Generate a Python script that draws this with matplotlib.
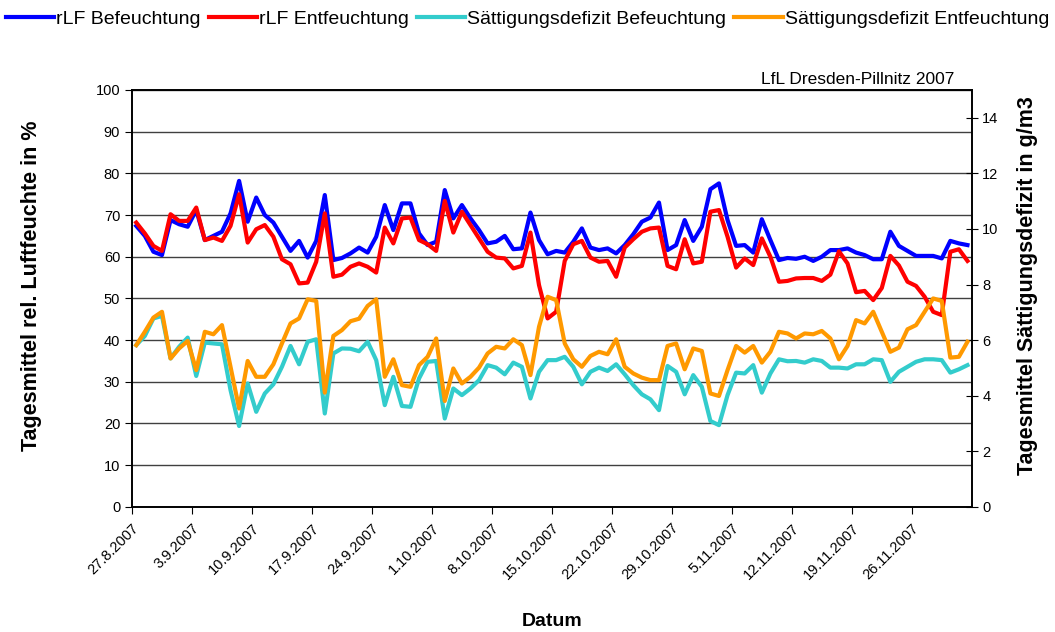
import datetime as dt
import matplotlib
matplotlib.use("Agg")
import matplotlib.pyplot as plt

plt.rcParams['font.family'] = ['Liberation Sans', 'DejaVu Sans']

# daily values, 27.8.2007 - 2.12.2007
start = dt.datetime(2007, 8, 27)

# rel. Luftfeuchte in %
rlf_bef = [67.4, 65.0, 61.2, 60.4, 68.8, 67.8, 67.2, 71.2, 64.0, 65.0,
           66.0, 70.4, 78.2, 68.4, 74.2, 70.0, 68.2, 64.8, 61.4, 63.8,
           59.8, 63.8, 74.8, 59.2, 59.7, 60.8, 62.2, 61.0, 64.8, 72.4,
           66.4, 72.8, 72.8, 65.6, 62.8, 63.6, 76.0, 69.2, 72.4, 69.2,
           66.4, 63.2, 63.6, 65.0, 61.8, 62.0, 70.6, 64.0, 60.6, 61.4,
           61.0, 63.6, 66.8, 62.2, 61.6, 62.0, 60.8, 62.8, 65.4, 68.4,
           69.4, 73.0, 61.6, 62.8, 68.8, 63.8, 67.2, 76.2, 77.6, 68.8,
           62.6, 62.8, 61.0, 69.0, 64.0, 59.2, 59.7, 59.5, 60.0, 59.0,
           60.0, 61.6, 61.6, 62.0, 61.0, 60.4, 59.4, 59.4, 66.0, 62.6,
           61.4, 60.2, 60.2, 60.2, 59.6, 63.8, 63.2, 62.8]
rlf_ent = [68.2, 65.6, 62.6, 61.4, 70.2, 68.6, 68.6, 71.8, 64.0, 64.6,
           63.8, 67.4, 75.0, 63.4, 66.6, 67.6, 64.8, 59.4, 58.2, 53.6,
           53.8, 58.8, 70.4, 55.2, 55.7, 57.6, 58.4, 57.6, 56.2, 67.0,
           63.2, 69.2, 69.4, 64.0, 63.0, 61.4, 73.4, 65.8, 70.8, 67.6,
           64.4, 61.2, 59.8, 59.6, 57.2, 57.8, 65.8, 53.2, 45.2, 46.8,
           59.0, 63.0, 63.8, 59.8, 58.8, 59.0, 55.2, 62.2, 64.2, 66.0,
           66.8, 67.0, 57.8, 57.0, 64.2, 58.4, 58.8, 70.8, 71.2, 64.8,
           57.4, 59.6, 58.0, 64.4, 60.0, 54.0, 54.2, 54.8, 54.9, 54.9,
           54.2, 55.7, 61.3, 58.4, 51.5, 51.8, 49.6, 52.5, 60.2, 57.9,
           54.0, 53.0, 50.4, 46.8, 46.0, 61.2, 61.8, 59.0]

# Saettigungsdefizit in g/m3
sd_bef = [5.82, 6.15, 6.78, 6.87, 5.34, 5.76, 6.09, 4.71, 5.91, 5.88,
          5.85, 4.20, 2.91, 4.44, 3.42, 4.08, 4.41, 5.04, 5.79, 5.13,
          5.94, 6.03, 3.36, 5.52, 5.70, 5.69, 5.60, 5.94, 5.28, 3.66,
          4.68, 3.63, 3.60, 4.62, 5.22, 5.25, 3.18, 4.26, 4.02, 4.26,
          4.56, 5.10, 5.01, 4.77, 5.19, 5.04, 3.90, 4.86, 5.28, 5.28,
          5.40, 5.04, 4.41, 4.86, 5.01, 4.89, 5.13, 4.77, 4.38, 4.05,
          3.87, 3.48, 5.07, 4.86, 4.05, 4.74, 4.32, 3.09, 2.94, 4.02,
          4.83, 4.80, 5.10, 4.11, 4.80, 5.31, 5.24, 5.25, 5.19, 5.31,
          5.25, 5.01, 5.01, 4.98, 5.13, 5.13, 5.31, 5.28, 4.50, 4.86,
          5.04, 5.22, 5.31, 5.31, 5.28, 4.83, 4.95, 5.10]
sd_ent = [5.82, 6.30, 6.81, 7.02, 5.34, 5.70, 5.97, 4.92, 6.30, 6.21,
          6.54, 5.04, 3.54, 5.25, 4.68, 4.68, 5.13, 5.88, 6.60, 6.78,
          7.47, 7.41, 4.11, 6.15, 6.36, 6.68, 6.77, 7.23, 7.47, 4.68,
          5.31, 4.38, 4.32, 5.10, 5.40, 6.06, 3.81, 4.98, 4.44, 4.68,
          5.01, 5.52, 5.76, 5.70, 6.03, 5.82, 4.74, 6.48, 7.56, 7.44,
          5.88, 5.31, 5.04, 5.43, 5.58, 5.49, 6.03, 5.04, 4.80, 4.65,
          4.56, 4.56, 5.79, 5.88, 4.95, 5.70, 5.61, 4.08, 3.99, 4.92,
          5.79, 5.55, 5.79, 5.19, 5.58, 6.30, 6.24, 6.06, 6.24, 6.21,
          6.33, 6.06, 5.31, 5.79, 6.72, 6.60, 7.02, 6.30, 5.58, 5.73,
          6.39, 6.54, 7.02, 7.50, 7.41, 5.37, 5.40, 5.94]

# points sit in the middle of each day
dates = [start + dt.timedelta(days=i, hours=12) for i in range(len(rlf_bef))]
ticks = [start + dt.timedelta(days=7 * k) for k in range(14)]
tick_labels = [str(d.day) + "." + str(d.month) + "." + str(d.year) for d in ticks]

fig = plt.figure(figsize=(10.55, 6.32), dpi=100)
ax = fig.add_axes([0.1251, 0.198, 0.796, 0.6596])
ax2 = ax.twinx()

l1, = ax.plot(dates, rlf_bef, color='#0000FF', lw=3, label='rLF Befeuchtung')
l2, = ax.plot(dates, rlf_ent, color='#FF0000', lw=3, label='rLF Entfeuchtung')
l3, = ax2.plot(dates, sd_bef, color='#33CCCC', lw=3, label='Sättigungsdefizit Befeuchtung')
l4, = ax2.plot(dates, sd_ent, color='#FF9900', lw=3, label='Sättigungsdefizit Entfeuchtung')

ax.set_xlim(start, start + dt.timedelta(days=98))
ax.set_ylim(0, 100)
ax.set_yticks(range(0, 101, 10))
ax2.set_ylim(0, 15)
ax2.set_yticks(range(0, 15, 2))
ax.grid(axis='y', color='#404040', lw=1)

ax.set_xticks(ticks)
ax.set_xticklabels(tick_labels, rotation=45, ha='right', rotation_mode='anchor')
ax.tick_params(axis='x', direction='out', length=5, labelsize=10.5, pad=5)
ax.tick_params(axis='y', direction='out', length=5, labelsize=10.5)
ax2.tick_params(axis='y', direction='inout', length=8, labelsize=10.5)

for a in (ax, ax2):
    for s in a.spines.values():
        s.set_linewidth(1.2)
        s.set_color('black')

ax.set_xlabel('Datum', fontsize=14, fontweight='bold')
ax.xaxis.set_label_coords(0.5, -0.255)
ax.set_ylabel('Tagesmittel rel. Luftfeuchte in %', fontsize=15.5, fontweight='bold')
ax.yaxis.set_label_coords(-0.107, 0.53)
ax2.set_ylabel('Tagesmittel Sättigungsdefizit in g/m3', fontsize=15.5, fontweight='bold')
ax2.yaxis.set_label_coords(1.054, 0.53)

fig.text(0.905, 0.862, 'LfL Dresden-Pillnitz 2007', fontsize=12.5, ha='right', va='bottom')

fig.legend(handles=[l1, l2, l3, l4], loc='upper center', bbox_to_anchor=(0.5, 1.012),
           ncol=4, frameon=False, fontsize=14, handlelength=2.5, handletextpad=0.1,
           columnspacing=0.4)

fig.savefig('out.png', dpi=100)
